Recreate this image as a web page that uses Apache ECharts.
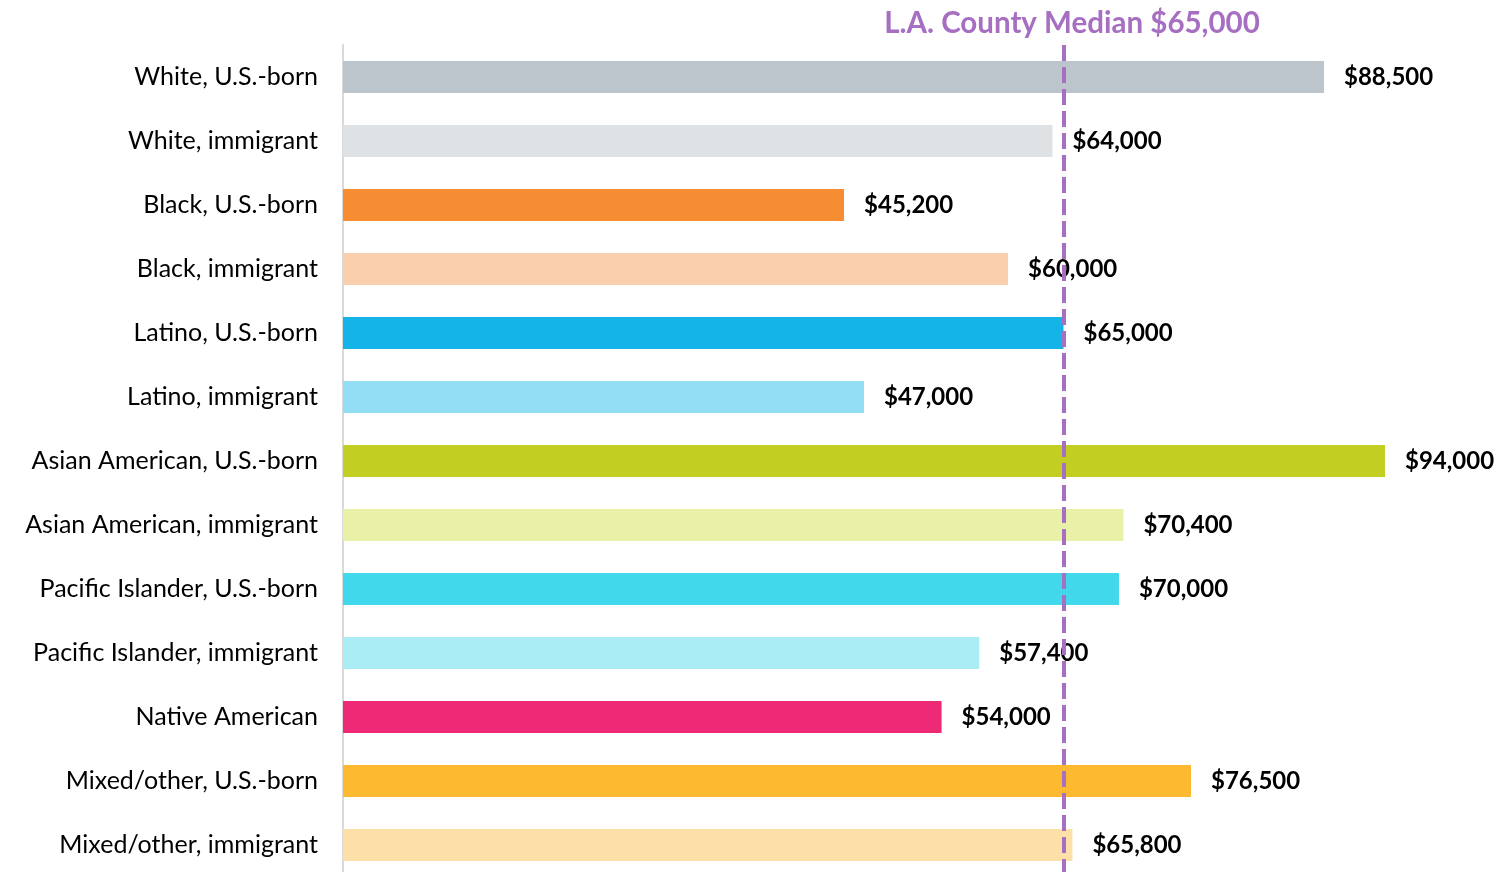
<!DOCTYPE html>
<html><head><meta charset="utf-8">
<script src="https://cdn.jsdelivr.net/npm/echarts@6/dist/echarts.min.js"></script>
<style>html,body{margin:0;padding:0;background:#fff;overflow:hidden}#c{width:1499px;height:877px}</style>
</head><body><div id="c"></div>
<script>
const categories = ["White, U.S.-born","White, immigrant","Black, U.S.-born","Black, immigrant","Latino, U.S.-born","Latino, immigrant","Asian American, U.S.-born","Asian American, immigrant","Pacific Islander, U.S.-born","Pacific Islander, immigrant","Native American","Mixed/other, U.S.-born","Mixed/other, immigrant"];
const values = [88500,64000,45200,60000,65000,47000,94000,70400,70000,57400,54000,76500,65800];
const colors = ["#BDC5CC","#DEE2E5","#F68D33","#F9CFAE","#14B4E8","#93DDF5","#C2CF22","#E9F0A8","#41D8EB","#ABEDF5","#EE2A76","#FDBA30","#FDDFA8"];
const medianValue = 65000;
const medianLabel = "L.A. County Median $65,000";

const font = "Lato, 'Open Sans', sans-serif";
const chart = echarts.init(document.getElementById('c'));
chart.setOption({
  animation:false,
  title:{text:medianLabel,left:1067,top:3,textAlign:'center',textStyle:{color:'#A66FC2',fontSize:29.5,fontWeight:'bold',fontFamily:font}},
  grid:{left:343,top:45,right:47.5,bottom:0},
  xAxis:{type:'value',min:0,max:100000,show:false},
  yAxis:{type:'category',data:categories,inverse:true,
    axisLine:{show:true,lineStyle:{color:'#D9D9D9',width:2}},axisTick:{show:false},
    axisLabel:{color:'#000',fontSize:25,fontFamily:font,margin:25}},
  series:[{type:'bar',barWidth:32,
    data:values.map((v,i)=>({value:v,itemStyle:{color:colors[i]}})),
    label:{show:true,position:'right',distance:20,color:'#000',fontSize:24,fontWeight:'bold',fontFamily:font,
      formatter:p=>'$'+p.value.toLocaleString('en-US')},
    markLine:{silent:true,symbol:'none',z:10,
      lineStyle:{color:'#A66FC2',width:4,type:[16,6]},
      label:{show:false},
      data:[{xAxis:medianValue}]}
  }]
});
</script></body></html>
